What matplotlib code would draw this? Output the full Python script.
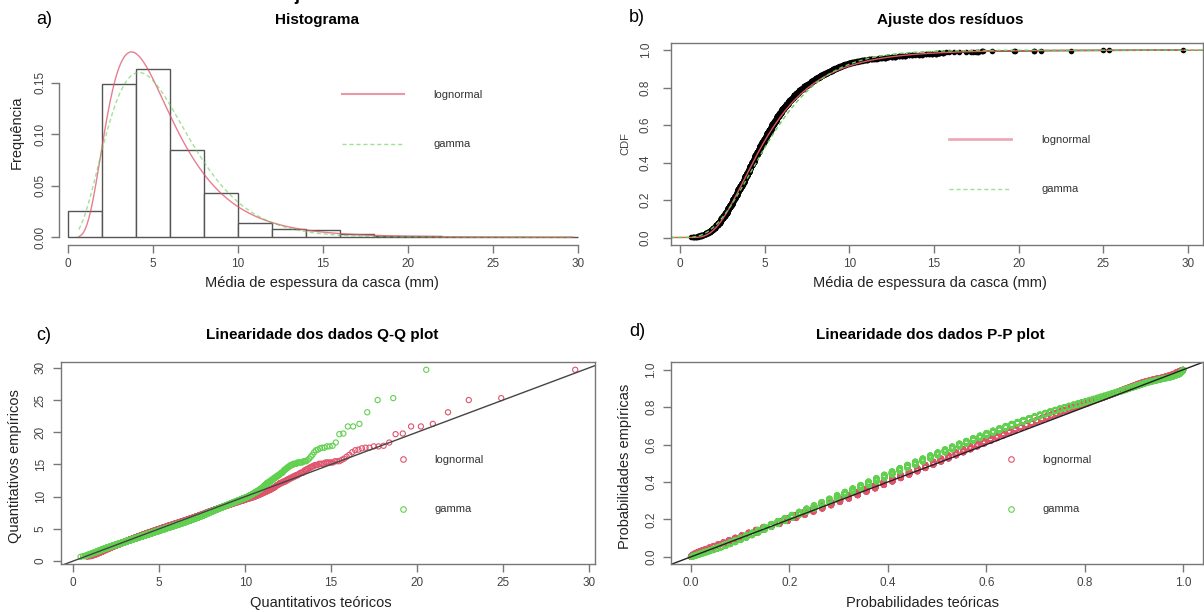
import math
import numpy as np
import matplotlib
matplotlib.use('Agg')
import matplotlib.pyplot as plt
from matplotlib.lines import Line2D

plt.rcParams['font.family'] = ['Liberation Sans', 'DejaVu Sans']

# espessura media da casca (mm): valores agrupados e frequencias
espessura_mm = [0.65, 0.75, 0.85, 0.95, 1.05, 1.15, 1.25, 1.35, 1.45, 1.55, 1.65, 1.75, 1.85, 1.95,
                2.05, 2.15, 2.25, 2.35, 2.45, 2.55, 2.65, 2.75, 2.85, 2.95,
                3.05, 3.15, 3.25, 3.35, 3.45, 3.55, 3.65, 3.75, 3.85, 3.95,
                4.05, 4.15, 4.25, 4.35, 4.45, 4.55, 4.65, 4.75, 4.85, 4.95,
                5.05, 5.15, 5.25, 5.35, 5.45, 5.55, 5.65, 5.75, 5.85, 5.95,
                6.05, 6.15, 6.25, 6.35, 6.45, 6.55, 6.65, 6.75, 6.85, 6.95,
                7.05, 7.15, 7.25, 7.35, 7.45, 7.55, 7.65, 7.75, 7.85, 7.95,
                8.05, 8.15, 8.25, 8.35, 8.45, 8.55, 8.65, 8.75, 8.85, 8.95,
                9.05, 9.15, 9.25, 9.35, 9.45, 9.55, 9.65, 9.75, 9.85, 9.95,
                10.05, 10.15, 10.25, 10.35, 10.45, 10.55, 10.65, 10.75, 10.85, 10.95,
                11.05, 11.15, 11.25, 11.35, 11.45, 11.55, 11.65, 11.75, 11.85, 11.95,
                12.1, 12.3, 12.5, 12.7, 12.9, 13.1, 13.3, 13.5, 13.7, 13.9,
                14.1, 14.3, 14.5, 14.7, 14.9, 15.1, 15.3, 15.5, 15.7, 15.9]
contagem = [1, 2, 2, 3, 4, 4, 6, 6, 8, 8, 10, 10, 12, 14,
            15, 17, 19, 21, 22, 24, 25, 27, 28, 28,
            29, 29, 30, 30, 31, 31, 32, 32, 33, 33,
            33, 33, 33, 33, 33, 32, 32, 31, 31, 30,
            30, 29, 29, 28, 28, 26, 26, 25, 25, 23,
            23, 21, 21, 19, 19, 18, 17, 17, 16, 15,
            14, 14, 13, 12, 12, 11, 12, 11, 11, 10,
            10, 10, 10, 9, 9, 9, 9, 8, 8, 8,
            8, 7, 7, 7, 7, 6, 6, 6, 6, 5,
            4, 4, 4, 3, 3, 3, 3, 3, 3, 2,
            3, 2, 2, 2, 2, 1, 1, 2, 2, 1,
            4, 4, 3, 3, 3, 3, 3, 2, 3, 1,
            2, 2, 2, 2, 3, 4, 5, 3, 1, 1]
# valores isolados da cauda
cauda_mm = [16.2, 16.5, 16.9, 17.2, 17.3, 17.5, 17.6, 17.6, 17.8, 17.8, 17.9,
            18.4, 19.7, 19.8, 20.9, 20.9, 21.3, 23.1, 25.0, 25.3, 29.7]

# parametros ajustados
lnorm_meanlog, lnorm_sdlog = 1.589, 0.517
gamma_shape, gamma_rate = 4.0, 1 / 1.4

hist_breaks = list(range(0, 32, 2))
dist_names = ['lognormal', 'gamma']

RED = '#DF536B'
GREEN = '#61D04F'
W, H = 1204, 612


def box(l, t, r, b):
    return [l / W, 1 - b / H, (r - l) / W, (b - t) / H]


def dlnorm(x):
    return np.exp(-(np.log(x) - lnorm_meanlog) ** 2 / (2 * lnorm_sdlog ** 2)) / (x * lnorm_sdlog * np.sqrt(2 * np.pi))


def dgamma(x):
    return np.exp((gamma_shape - 1) * np.log(x) - x * gamma_rate - math.lgamma(gamma_shape)
                  + gamma_shape * np.log(gamma_rate))


# cdf numerica dos dois ajustes
grid = np.linspace(1e-6, 90, 300001)
def num_cdf(pdf):
    d = pdf(grid)
    c = np.concatenate([[0], np.cumsum((d[1:] + d[:-1]) / 2 * np.diff(grid))])
    return c / c[-1]

cdf_ln = num_cdf(dlnorm)
cdf_ga = num_cdf(dgamma)

x = np.sort(np.concatenate([np.repeat(espessura_mm, contagem), cauda_mm]))
n = len(x)
pp = (np.arange(1, n + 1) - 0.5) / n


def pad(lo, hi):
    d = 0.04 * (hi - lo)
    return lo - d, hi + d


fig = plt.figure(figsize=(W / 100, H / 100), dpi=100)

TICKC = '#444444'
SPINEC = '#777777'


def style(ax, box_on=True):
    for s in ax.spines.values():
        s.set_color(SPINEC)
        s.set_linewidth(1.0)
        s.set_visible(box_on)
    ax.tick_params(direction='out', length=6, width=1, color=SPINEC, labelsize=8.5,
                   labelcolor=TICKC)
    ax.tick_params(axis='y', labelrotation=90)
    for lbl in ax.get_yticklabels():
        lbl.set_va('center')


def legend_at(ax, handles, xpx, ypx, hl, tp):
    ax.legend(handles, dist_names, loc='upper left', bbox_to_anchor=(xpx / W, 1 - ypx / H),
              bbox_transform=fig.transFigure, frameon=False, fontsize=8, handlelength=hl,
              handletextpad=tp, labelspacing=3.55, borderpad=0, borderaxespad=0,
              labelcolor='#333333')


xlim_data = pad(x.min(), x.max())
xs = np.linspace(x.min(), x.max(), 600)

# a) Histograma
ax = fig.add_axes(box(59, 44.5, 592.6, 244.6))
heights, _, _ = ax.hist(x, bins=hist_breaks, density=True, facecolor='white',
                        edgecolor='#555555', linewidth=1.0)
ax.plot(xs, dlnorm(xs), color=RED, lw=1.0, alpha=0.75)
ax.plot(xs, dgamma(xs), color=GREEN, lw=1.0, alpha=0.6, ls=(0, (3, 2)))
ymax = max(heights.max(), dlnorm(xs).max(), dgamma(xs).max())
ax.set_xlim(xlim_data)
ax.set_ylim(pad(0, ymax))
ax.set_xticks(range(0, 31, 5))
ax.set_yticks([0, 0.05, 0.10, 0.15])
ax.set_yticklabels(['0.00', '0.05', '0.10', '0.15'])
style(ax, box_on=False)
ax.spines['left'].set_visible(True)
ax.spines['bottom'].set_visible(True)
ax.spines['left'].set_bounds(0, 0.15)
ax.spines['bottom'].set_bounds(0, 30)
ax.tick_params(axis='y', pad=3)
legend_at(ax, [Line2D([], [], color=RED, lw=1.5, alpha=0.6),
               Line2D([], [], color=GREEN, lw=1.0, alpha=0.6, ls=(0, (3, 2)))],
          341.5, 90, 5.6, 2.7)

# b) Ajuste dos residuos
ax = fig.add_axes(box(671.3, 42.7, 1202.8, 245))
ax.plot(x, np.arange(1, n + 1) / n, 'o-', color='black', ms=3, lw=1.0)
xc = np.linspace(*xlim_data, 600)
ax.plot(xc, np.interp(xc, grid, cdf_ln), color=RED, lw=1.0)
ax.plot(xc, np.interp(xc, grid, cdf_ga), color=GREEN, lw=1.0, ls=(0, (3, 2)))
ax.set_xlim(xlim_data)
ax.set_ylim(pad(0, 1))
ax.set_xticks(range(0, 31, 5))
ax.set_yticks(np.arange(0, 1.01, 0.2))
ax.set_yticklabels(['0.0', '0.2', '0.4', '0.6', '0.8', '1.0'])
style(ax)
ax.tick_params(axis='y', pad=8)
legend_at(ax, [Line2D([], [], color=RED, lw=2.0, alpha=0.5),
               Line2D([], [], color=GREEN, lw=1.0, alpha=0.6, ls=(0, (3, 2)))],
          949, 135, 5.6, 2.7)

# c) Q-Q plot
q_ln = np.interp(pp, cdf_ln, grid)
q_ga = np.interp(pp, cdf_ga, grid)
ax = fig.add_axes(box(60.8, 362.3, 595, 564.3))
ax.scatter(q_ln, x, s=14, facecolors='none', edgecolors=RED, linewidths=0.8)
ax.scatter(q_ga, x, s=14, facecolors='none', edgecolors=GREEN, linewidths=0.8)
ax.axline((0, 0), slope=1, color='#444444', lw=1.0)
ax.set_xlim(pad(min(q_ln.min(), q_ga.min()), max(q_ln.max(), q_ga.max())))
ax.set_ylim(pad(x.min(), x.max()))
ax.set_xticks(range(0, 31, 5))
ax.set_yticks(range(0, 31, 5))
style(ax)
ax.tick_params(axis='y', pad=4)
legend_at(ax, [Line2D([], [], ls='none', marker='o', mfc='none', mec=RED, ms=4, mew=0.8),
               Line2D([], [], ls='none', marker='o', mfc='none', mec=GREEN, ms=4, mew=0.8)],
          392, 455, 2.0, 1.8)

# d) P-P plot
p_ln = np.interp(x, grid, cdf_ln)
p_ga = np.interp(x, grid, cdf_ga)
ax = fig.add_axes(box(671.3, 362.3, 1202.8, 564.3))
ax.scatter(p_ln, pp, s=15, facecolors='none', edgecolors=RED, linewidths=0.7)
ax.scatter(p_ga, pp, s=15, facecolors='none', edgecolors=GREEN, linewidths=0.7)
ax.axline((0, 0), slope=1, color='#222222', lw=1.0)
ax.set_xlim(pad(0, 1))
ax.set_ylim(pad(0, 1))
ticks = np.arange(0, 1.01, 0.2)
ax.set_xticks(ticks)
ax.set_xticklabels(['0.0', '0.2', '0.4', '0.6', '0.8', '1.0'])
ax.set_yticks(ticks)
ax.set_yticklabels(['0.0', '0.2', '0.4', '0.6', '0.8', '1.0'])
style(ax)
ax.tick_params(axis='y', pad=4)
legend_at(ax, [Line2D([], [], ls='none', marker='o', mfc='none', mec=RED, ms=4, mew=0.8),
               Line2D([], [], ls='none', marker='o', mfc='none', mec=GREEN, ms=4, mew=0.8)],
          1000, 455, 2.0, 1.8)

# titulos, rotulos e letras dos paineis
tkw = dict(ha='center', va='center', fontsize=11, fontweight='bold')
fig.text(316.7 / W, 1 - 20 / H, 'Histograma', **tkw)
fig.text(950 / W, 1 - 20 / H, 'Ajuste dos resíduos', **tkw)
fig.text(321.7 / W, 1 - 335 / H, 'Linearidade dos dados Q-Q plot', **tkw)
fig.text(930 / W, 1 - 335 / H, 'Linearidade dos dados P-P plot', **tkw)

lkw = dict(ha='left', va='center', fontsize=13)
fig.text(36 / W, 1 - 20 / H, 'a)', **lkw)
fig.text(629 / W, 1 - 17 / H, 'b)', **lkw)
fig.text(36 / W, 1 - 335 / H, 'c)', **lkw)
fig.text(629 / W, 1 - 332 / H, 'd)', **lkw)

xkw = dict(ha='center', va='center', fontsize=10.5, color='#222222')
fig.text(321.6 / W, 1 - 283 / H, 'Média de espessura da casca (mm)', **xkw)
fig.text(930 / W, 1 - 283 / H, 'Média de espessura da casca (mm)', **xkw)
fig.text(321 / W, 1 - 603 / H, 'Quantitativos teóricos', **xkw)
fig.text(922 / W, 1 - 603 / H, 'Probabilidades teóricas', **xkw)
fig.text(17 / W, 1 - 132 / H, 'Frequência', rotation=90, **xkw)
fig.text(15 / W, 1 - 466 / H, 'Quantitativos empíricos', rotation=90, **xkw)
fig.text(625 / W, 1 - 466 / H, 'Probabilidades empíricas', rotation=90, **xkw)
fig.text(625 / W, 1 - 143.5 / H, 'CDF', rotation=90, ha='center', va='center', fontsize=8,
         color='#444444')

# fragmento de texto cortado no topo (como na figura original)
fig.text(297 / W, 1.0, 'j', ha='center', va='baseline', fontsize=13, fontweight='bold')

fig.savefig('out.png', dpi=100, facecolor='white')
